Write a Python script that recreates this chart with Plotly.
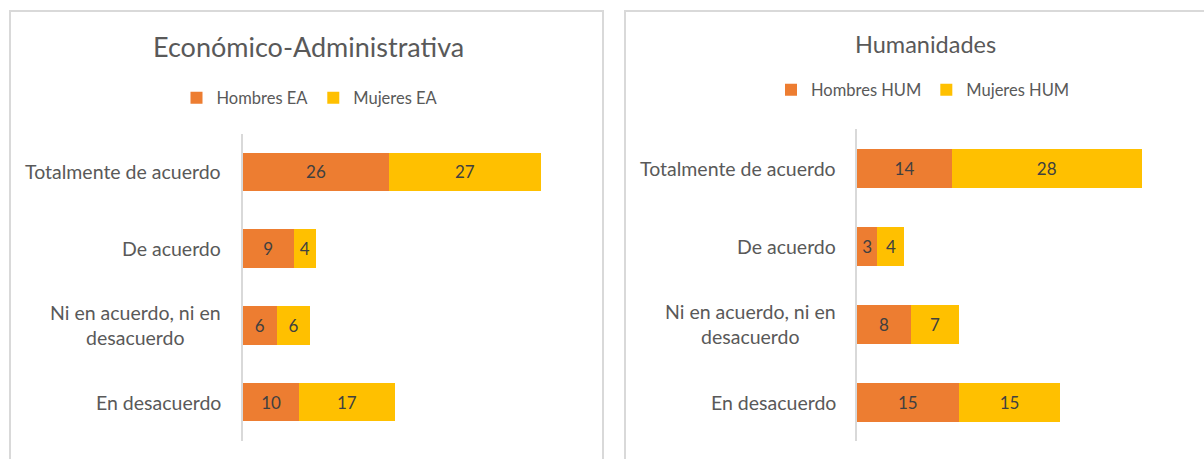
import plotly.graph_objects as go

categories = ["Totalmente de acuerdo", "De acuerdo", "Ni en acuerdo, ni en desacuerdo", "En desacuerdo"]
cat_labels = ["Totalmente de acuerdo", "De acuerdo", "Ni en acuerdo, ni en<br>desacuerdo", "En desacuerdo"]

hombres_ea = [26, 9, 6, 10]
mujeres_ea = [27, 4, 6, 17]
hombres_hum = [14, 3, 8, 15]
mujeres_hum = [28, 4, 7, 15]

title_ea = "Económico-Administrativa"
title_hum = "Humanidades"

ORANGE = "#ED7D31"
YELLOW = "#FFC000"
TXT = "#595959"
LBL = "#404040"
FONT = "Lato, 'Open Sans', sans-serif"

W, H = 1204, 459

def px_x(v):
    return v / W

def px_y(v):
    return 1 - v / H

fig = go.Figure()

def add_bar(name, vals, color, xa, ya, legend):
    fig.add_trace(go.Bar(
        name=name, y=categories, x=vals, orientation="h",
        marker=dict(color=color, line=dict(width=0)),
        text=[str(v) for v in vals], textposition="inside",
        insidetextanchor="middle", textangle=0,
        textfont=dict(color=LBL, size=17, family=FONT),
        xaxis=xa, yaxis=ya, legend=legend,
        hoverinfo="skip",
    ))

add_bar("Hombres EA", hombres_ea, ORANGE, "x", "y", "legend")
add_bar("Mujeres EA", mujeres_ea, YELLOW, "x", "y", "legend")
add_bar("Hombres HUM", hombres_hum, ORANGE, "x2", "y2", "legend2")
add_bar("Mujeres HUM", mujeres_hum, YELLOW, "x2", "y2", "legend2")

yaxis_common = dict(
    type="category", categoryorder="array", categoryarray=categories,
    autorange="reversed", showticklabels=False, ticks="",
    showline=True, linecolor="#D9D9D9", linewidth=2, showgrid=False, zeroline=False,
)

fig.update_layout(
    width=W, height=H,
    margin=dict(l=0, r=0, t=0, b=0),
    paper_bgcolor="white", plot_bgcolor="white",
    barmode="stack", bargap=0.5,
    font=dict(family=FONT, color=TXT),
    showlegend=True,
    uniformtext=dict(mode=False),
    xaxis=dict(domain=[px_x(243), px_x(580)], range=[0, 60], visible=False, anchor="y"),
    yaxis=dict(domain=[px_y(440.5), px_y(133.5)], anchor="x", **yaxis_common),
    xaxis2=dict(domain=[px_x(857), px_x(1162)], range=[0, 45], visible=False, anchor="y2"),
    yaxis2=dict(domain=[px_y(441), px_y(129)], anchor="x2", **yaxis_common),
    legend=dict(orientation="h", x=px_x(310), xanchor="center", y=px_y(98), yanchor="middle",
                font=dict(size=16.5, color=TXT, family=FONT), traceorder="normal",
                bgcolor="rgba(0,0,0,0)", itemwidth=30),
    legend2=dict(orientation="h", x=px_x(923), xanchor="center", y=px_y(90), yanchor="middle",
                 font=dict(size=16.5, color=TXT, family=FONT), traceorder="normal",
                 bgcolor="rgba(0,0,0,0)", itemwidth=30),
    shapes=[
        dict(type="rect", xref="paper", yref="paper", x0=px_x(10), x1=px_x(603),
             y0=-0.2, y1=px_y(11), line=dict(color="#D9D9D9", width=2), fillcolor="rgba(0,0,0,0)", layer="below"),
        dict(type="rect", xref="paper", yref="paper", x0=px_x(625), x1=1.2,
             y0=-0.2, y1=px_y(11), line=dict(color="#D9D9D9", width=2), fillcolor="rgba(0,0,0,0)", layer="below"),
    ],
)

annotations = [
    dict(text=title_ea, xref="paper", yref="paper", x=px_x(308), y=px_y(46),
         xanchor="center", yanchor="middle", showarrow=False,
         font=dict(size=27, color=TXT, family=FONT)),
    dict(text=title_hum, xref="paper", yref="paper", x=px_x(925), y=px_y(44),
         xanchor="center", yanchor="middle", showarrow=False,
         font=dict(size=23.5, color=TXT, family=FONT)),
]
for cat, lab in zip(categories, cat_labels):
    annotations.append(dict(text=lab, xref="paper", yref="y", x=px_x(223), y=cat,
                            xanchor="right", yanchor="middle", align="center", showarrow=False,
                            font=dict(size=19.5, color=TXT, family=FONT)))
    annotations.append(dict(text=lab, xref="paper", yref="y2", x=px_x(838), y=cat,
                            xanchor="right", yanchor="middle", align="center", showarrow=False,
                            font=dict(size=19.5, color=TXT, family=FONT)))
fig.update_layout(annotations=annotations)

fig.write_html("out.html", config={"displayModeBar": False},
               post_script="document.body.style.margin='0px';")
